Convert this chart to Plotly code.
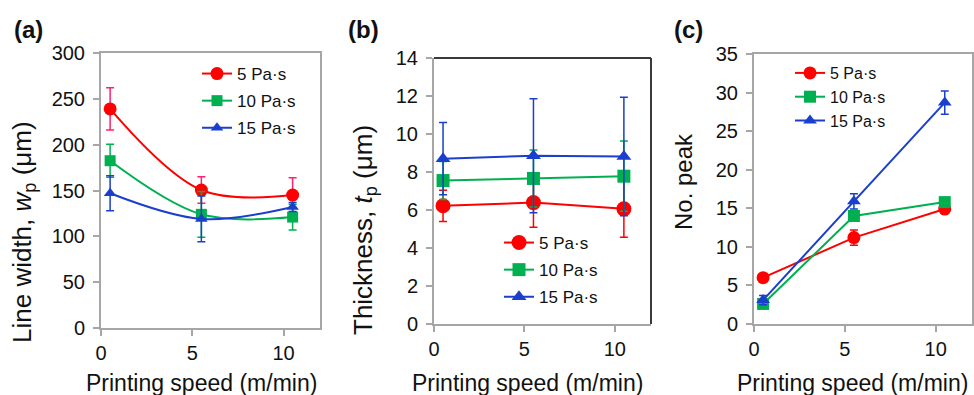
import plotly.graph_objects as go

# ---------------- data ----------------
speed = [0.5, 5.5, 10.5]
series_names = ["5 Pa\u00b7s", "10 Pa\u00b7s", "15 Pa\u00b7s"]

# (a) line width (um)
width_5 = [239, 150.5, 145]
width_5_err = [23, 14.5, 19]
width_10 = [182.5, 124, 121]
width_10_err = [18, 25, 14]
width_15 = [147, 119, 132]
width_15_err = [19, 25, 5]

# (b) thickness (um)
thick_5 = [6.22, 6.39, 6.06]
thick_5_err = [0.82, 1.3, 1.5]
thick_10 = [7.55, 7.66, 7.78]
thick_10_err = [1.0, 1.5, 1.85]
thick_15 = [8.7, 8.86, 8.82]
thick_15_err = [1.9, 3.0, 3.12]

# (c) number of peaks
peak_5 = [6.0, 11.2, 14.9]
peak_5_err = [0.4, 1.0, 0.3]
peak_10 = [2.6, 14.0, 15.8]
peak_10_err = [0.3, 0.3, 0.3]
peak_15 = [3.1, 15.9, 28.7]
peak_15_err = [0.6, 1.0, 1.5]

x_ticks = [0, 5, 10]
y_ticks_a = [0, 50, 100, 150, 200, 250, 300]
y_ticks_b = [0, 2, 4, 6, 8, 10, 12, 14]
y_ticks_c = [0, 5, 10, 15, 20, 25, 30, 35]

# ---------------- style ----------------
RED = "#FF0000"
GREEN = "#00B050"
BLUE = "#1A3FCC"
AXIS = "#A6A6A6"
DARK = "#3A3A3A"
FONT = "Liberation Sans, Arial, Helvetica, sans-serif"
TXT = "#111111"

W, H = 974, 395

def px_x(p):
    return p / W

def px_y(p):
    return 1 - p / H

fig = go.Figure()

symbols = ["circle", "square", "triangle-up"]
colors = [RED, GREEN, BLUE]

panels = [
    ("x", "y", [width_5, width_10, width_15], [width_5_err, width_10_err, width_15_err], "spline", "legend",
     ["#FF2070", GREEN, BLUE], [13, 11, 11]),
    ("x2", "y2", [thick_5, thick_10, thick_15], [thick_5_err, thick_10_err, thick_15_err], "linear", "legend2",
     [RED, GREEN, BLUE], [15, 13, 13]),
    ("x3", "y3", [peak_5, peak_10, peak_15], [peak_5_err, peak_10_err, peak_15_err], "linear", "legend3",
     [RED, GREEN, BLUE], [13, 12, 12]),
]

for xa, ya, vals, errs, shape, leg, ecols, sizes in panels:
    for i in range(3):
        fig.add_trace(go.Scatter(
            x=speed, y=vals[i], xaxis=xa, yaxis=ya,
            mode="lines+markers", name=series_names[i],
            line=dict(color=colors[i], width=2, shape=shape),
            marker=dict(symbol=symbols[i], size=sizes[i], color=colors[i]),
            error_y=dict(type="data", array=errs[i], visible=True,
                         color=ecols[i], thickness=1.5, width=4),
            legend=leg, legendgroup=f"{leg}_{i}",
        ))

def xaxis_cfg(domain, anchor):
    return dict(domain=domain, anchor=anchor, range=[0, 12], tickvals=x_ticks,
                showline=True, linecolor=AXIS, linewidth=2, mirror=True,
                ticks="outside", ticklen=6, tickcolor=AXIS, tickwidth=1.5,
                showgrid=False, zeroline=False, automargin=False,
                tickfont=dict(family=FONT, size=20, color=TXT))

def yaxis_cfg(domain, anchor, rng, tv):
    return dict(domain=domain, anchor=anchor, range=rng, tickvals=tv,
                showline=True, linecolor=AXIS, linewidth=2, mirror=True,
                ticks="outside", ticklen=6, tickcolor=AXIS, tickwidth=1.5,
                showgrid=False, zeroline=False, ticklabelstandoff=4, automargin=False,
                tickfont=dict(family=FONT, size=20, color=TXT))

fig.update_layout(
    template="none",
    xaxis=xaxis_cfg([px_x(101), px_x(320)], "y"),
    yaxis=yaxis_cfg([px_y(328), px_y(53)], "x", [0, 300], y_ticks_a),
    xaxis2=xaxis_cfg([px_x(434), px_x(651)], "y2"),
    yaxis2=yaxis_cfg([px_y(324), px_y(58)], "x2", [0, 14], y_ticks_b),
    xaxis3=xaxis_cfg([px_x(754), px_x(972)], "y3"),
    yaxis3=yaxis_cfg([px_y(324), px_y(54)], "x3", [0, 35], y_ticks_c),
)
fig.update_layout(xaxis2=dict(mirror=False), yaxis2=dict(mirror=False))

# dark top/right frame on panel (b)
fig.add_shape(type="line", xref="x2 domain", yref="y2 domain", x0=0, x1=1, y0=1, y1=1,
              line=dict(color=DARK, width=2))
fig.add_shape(type="line", xref="x2 domain", yref="y2 domain", x0=1, x1=1, y0=0, y1=1,
              line=dict(color=DARK, width=2))

leg_common = dict(bgcolor="rgba(0,0,0,0)", borderwidth=0, xanchor="left", yanchor="top",
                  traceorder="grouped", itemsizing="trace")
fig.update_layout(
    legend=dict(x=px_x(197), y=px_y(56), tracegroupgap=2,
                font=dict(family=FONT, size=17, color=TXT), **leg_common),
    legend2=dict(x=px_x(499), y=px_y(225), tracegroupgap=2,
                 font=dict(family=FONT, size=17, color=TXT), **leg_common),
    legend3=dict(x=px_x(790), y=px_y(56), tracegroupgap=0,
                 font=dict(family=FONT, size=16, color=TXT), **leg_common),
)

annotations = [
    dict(text="<b>(a)</b>", x=px_x(12), y=px_y(30), xanchor="left", yanchor="middle", size=24, angle=0),
    dict(text="<b>(b)</b>", x=px_x(346), y=px_y(30), xanchor="left", yanchor="middle", size=24, angle=0),
    dict(text="<b>(c)</b>", x=px_x(672), y=px_y(30), xanchor="left", yanchor="middle", size=24, angle=0),
    dict(text="Printing speed (m/min)", x=px_x(201), y=px_y(383), xanchor="center", yanchor="middle", size=23, angle=0),
    dict(text="Printing speed (m/min)", x=px_x(527), y=px_y(383), xanchor="center", yanchor="middle", size=23, angle=0),
    dict(text="Printing speed (m/min)", x=px_x(852), y=px_y(383), xanchor="center", yanchor="middle", size=23, angle=0),
    dict(text="Line width, <i>w</i><sub>p</sub> (\u03bcm)", x=px_x(23), y=px_y(232), xanchor="center",
         yanchor="middle", size=26, angle=-90),
    dict(text="Thickness, <i>t</i><sub>p</sub> (\u03bcm)", x=px_x(364), y=px_y(230), xanchor="center",
         yanchor="middle", size=26, angle=-90),
    dict(text="No. peak", x=px_x(683), y=px_y(182), xanchor="center", yanchor="middle", size=24, angle=-90),
]
for a in annotations:
    fig.add_annotation(text=a["text"], x=a["x"], y=a["y"], xref="paper", yref="paper",
                       xanchor=a["xanchor"], yanchor=a["yanchor"], showarrow=False,
                       textangle=a["angle"],
                       font=dict(family=FONT, size=a["size"], color=TXT))

fig.update_layout(width=W, height=H, margin=dict(l=0, r=0, t=0, b=0, pad=0),
                  paper_bgcolor="white", plot_bgcolor="white", showlegend=True)

fig.write_html("out.html")
